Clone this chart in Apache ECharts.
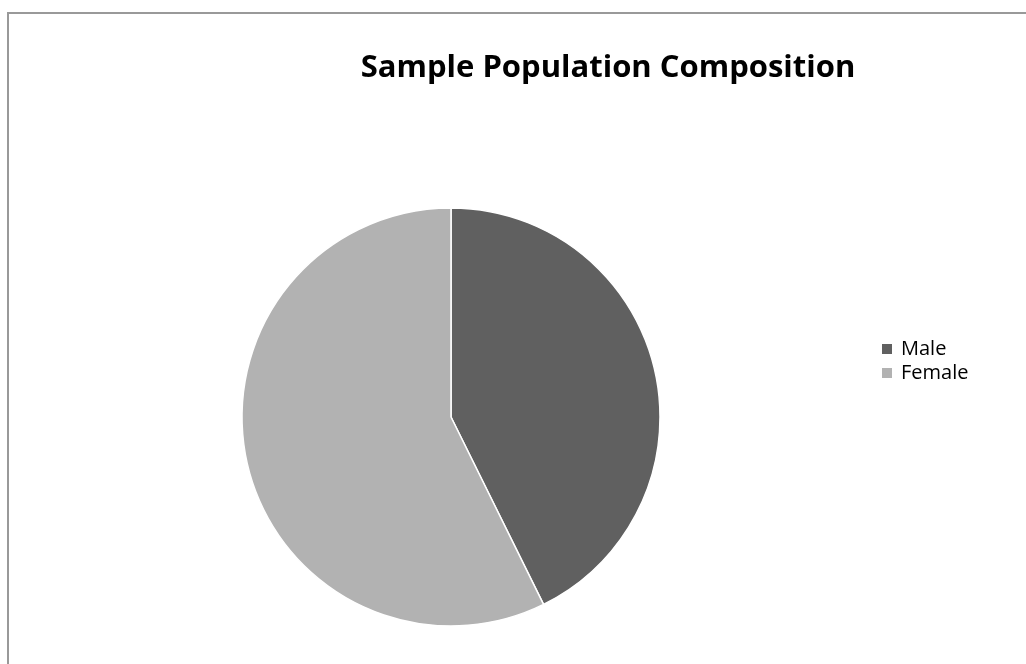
<!DOCTYPE html>
<html>
<head>
<meta charset="utf-8">
<script src="https://cdn.jsdelivr.net/npm/echarts@6/dist/echarts.min.js"></script>
<style>
  html, body { margin: 0; padding: 0; background: #fff; }
  #chart { width: 1026px; height: 664px; }
</style>
</head>
<body>
<div id="chart"></div>
<script>
// data
var categories = ["Male", "Female"];
var values = [42.7, 57.3];
var colors = ["#606060", "#b2b2b2"];

var chart = echarts.init(document.getElementById("chart"));

var pieData = categories.map(function (name, i) {
  return { name: name, value: values[i], itemStyle: { color: colors[i] } };
});

chart.setOption({
  backgroundColor: "#fff",
  animation: false,
  title: {
    text: "Sample Population Composition",
    left: 603,
    top: 48,
    textAlign: "center",
    textStyle: {
      fontFamily: "Open Sans",
      fontSize: 31,
      fontWeight: "bold",
      color: "#000"
    }
  },
  legend: {
    orient: "vertical",
    left: 880,
    top: 339,
    padding: 0,
    icon: "rect",
    itemWidth: 12,
    itemHeight: 12,
    itemGap: 4,
    data: categories,
    textStyle: { fontFamily: "Open Sans", fontSize: 20, color: "#000", padding: [0, 0, 0, 3] }
  },
  // outer chart frame
  graphic: [{
    type: "rect",
    shape: { x: 8, y: 13, width: 1100, height: 700 },
    style: { fill: "none", stroke: "#999", lineWidth: 2 },
    silent: true
  }],
  series: [{
    name: "Population",
    type: "pie",
    center: [451, 417],
    radius: 209,
    startAngle: 90,
    clockwise: true,
    label: { show: false },
    labelLine: { show: false },
    itemStyle: { borderColor: "#fff", borderWidth: 1.5 },
    emphasis: { disabled: true },
    data: pieData
  }]
});
</script>
</body>
</html>
